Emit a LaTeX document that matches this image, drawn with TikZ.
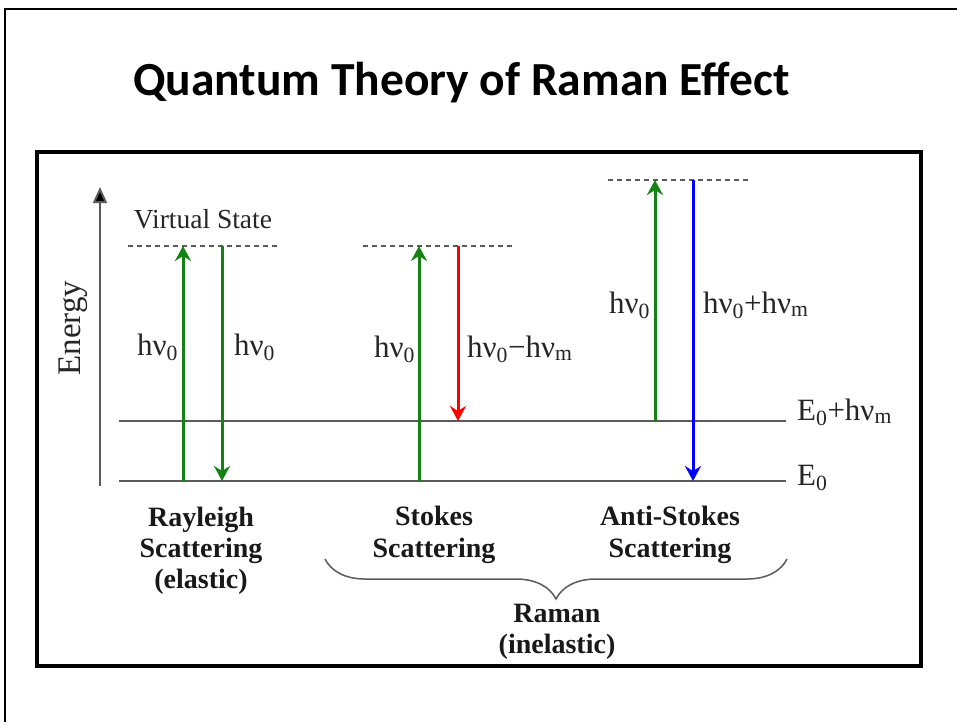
\documentclass[tikz,border=0pt]{standalone}
\usepackage{fontspec}
\setmainfont{Liberation Serif}
\newfontfamily\titlefont{Carlito}
\usetikzlibrary{arrows.meta,decorations.pathreplacing}
\definecolor{photongreen}{RGB}{20,130,20}
\definecolor{levelgray}{RGB}{90,90,90}
\begin{document}
\begin{tikzpicture}[x=1pt,y=-1pt,
  level/.style={draw=levelgray, line width=1.6pt},
  vstate/.style={draw=levelgray, line width=1.2pt, dash pattern=on 5pt off 4pt},
  photon/.style={line width=3pt, -{Stealth[length=15pt,width=16pt,inset=5pt]}},
  lbl/.style={font=\fontsize{31}{32}\selectfont, inner sep=0pt, anchor=base west, text=black!85},
  capline/.style={font=\bfseries\fontsize{28}{31}\selectfont, inner sep=0pt, anchor=base, text=black!90},
]
\useasboundingbox (0,0) rectangle (957,721);
\fill[white] (0,0) rectangle (957,721);
% slide frame
\draw[line width=2.5pt] (5,740) -- (5,9) -- (975,9);
\node[anchor=base west, font=\titlefont\bfseries\fontsize{47.5}{50}\selectfont, inner sep=0pt] (title) at (133,95) {Quantum Theory of Raman Effect};
% figure box
\draw[line width=4.5pt] (37,152) rectangle (921,666);

% energy axis
\coordinate (ax0) at (100,486);
\coordinate (ax1) at (100,187);
\draw[draw=levelgray, line width=2pt, -{Triangle[length=16pt,width=14pt,fill=black]}] (ax0) -- (ax1);
\node[rotate=90, font=\fontsize{33}{34}\selectfont, text=black!85] (energy) at (73,328) {Energy};

% levels
\coordinate (g0) at (119,481); \coordinate (g1) at (786,481);
\coordinate (e0) at (119,421); \coordinate (e1) at (786,421);
\draw[level] (g0) -- (g1);
\draw[level] (e0) -- (e1);

% virtual states
\coordinate (vr0) at (128,246); \coordinate (vr1) at (278,246);
\coordinate (vs0) at (363,246); \coordinate (vs1) at (513,246);
\coordinate (va0) at (608,180); \coordinate (va1) at (748,180);
\draw[vstate] (vr0) -- (vr1);
\draw[vstate] (vs0) -- (vs1);
\draw[vstate] (va0) -- (va1);
\node[font=\fontsize{27.5}{28}\selectfont, inner sep=0pt, anchor=base, text=black!85] (virt) at (203,228) {Virtual State};

% Rayleigh
\coordinate (r1a) at (183,481); \coordinate (r1b) at (183,246);
\coordinate (r2a) at (222,246); \coordinate (r2b) at (222,481);
\draw[photon, photongreen] (r1a) -- (r1b);
\draw[photon, photongreen] (r2a) -- (r2b);
\node[lbl] (rl1) at (137,355) {hν\textsubscript{0}};
\node[lbl] (rl2) at (234,355) {hν\textsubscript{0}};

% Stokes
\coordinate (s1a) at (419,481); \coordinate (s1b) at (419,246);
\coordinate (s2a) at (458,246); \coordinate (s2b) at (458,421);
\draw[photon, photongreen] (s1a) -- (s1b);
\draw[photon, red] (s2a) -- (s2b);
\node[lbl] (sl1) at (374,357) {hν\textsubscript{0}};
\node[lbl] (sl2) at (467,357) {hν\textsubscript{0}−hν\textsubscript{m}};

% Anti-Stokes
\coordinate (a1a) at (655,421); \coordinate (a1b) at (655,180);
\coordinate (a2a) at (693,180); \coordinate (a2b) at (693,481);
\draw[photon, photongreen] (a1a) -- (a1b);
\draw[photon, blue] (a2a) -- (a2b);
\node[lbl] (al1) at (609,313) {hν\textsubscript{0}};
\node[lbl] (al2) at (703,313) {hν\textsubscript{0}+hν\textsubscript{m}};

% level labels
\node[lbl] (le1) at (797,420) {E\textsubscript{0}+hν\textsubscript{m}};
\node[lbl] (le0) at (797,485) {E\textsubscript{0}};

% captions
\node[capline] (c1) at (201,526) {Rayleigh};
\node[capline] (c2) at (201,557) {Scattering};
\node[capline] (c3) at (201,588) {(elastic)};
\node[capline] (c4) at (434,525) {Stokes};
\node[capline] (c5) at (434,557) {Scattering};
\node[capline] (c6) at (670,525) {Anti-Stokes};
\node[capline] (c7) at (670,557) {Scattering};
\node[capline] (c8) at (557,622) {Raman};
\node[capline] (c9) at (557,653) {(inelastic)};

% brace
\coordinate (b1) at (787,559);
\coordinate (b0) at (325,559);
\draw[draw=levelgray, line width=1.5pt, decorate, decoration={brace, amplitude=40pt}] (b1) -- (b0);
\end{tikzpicture}
\end{document}
